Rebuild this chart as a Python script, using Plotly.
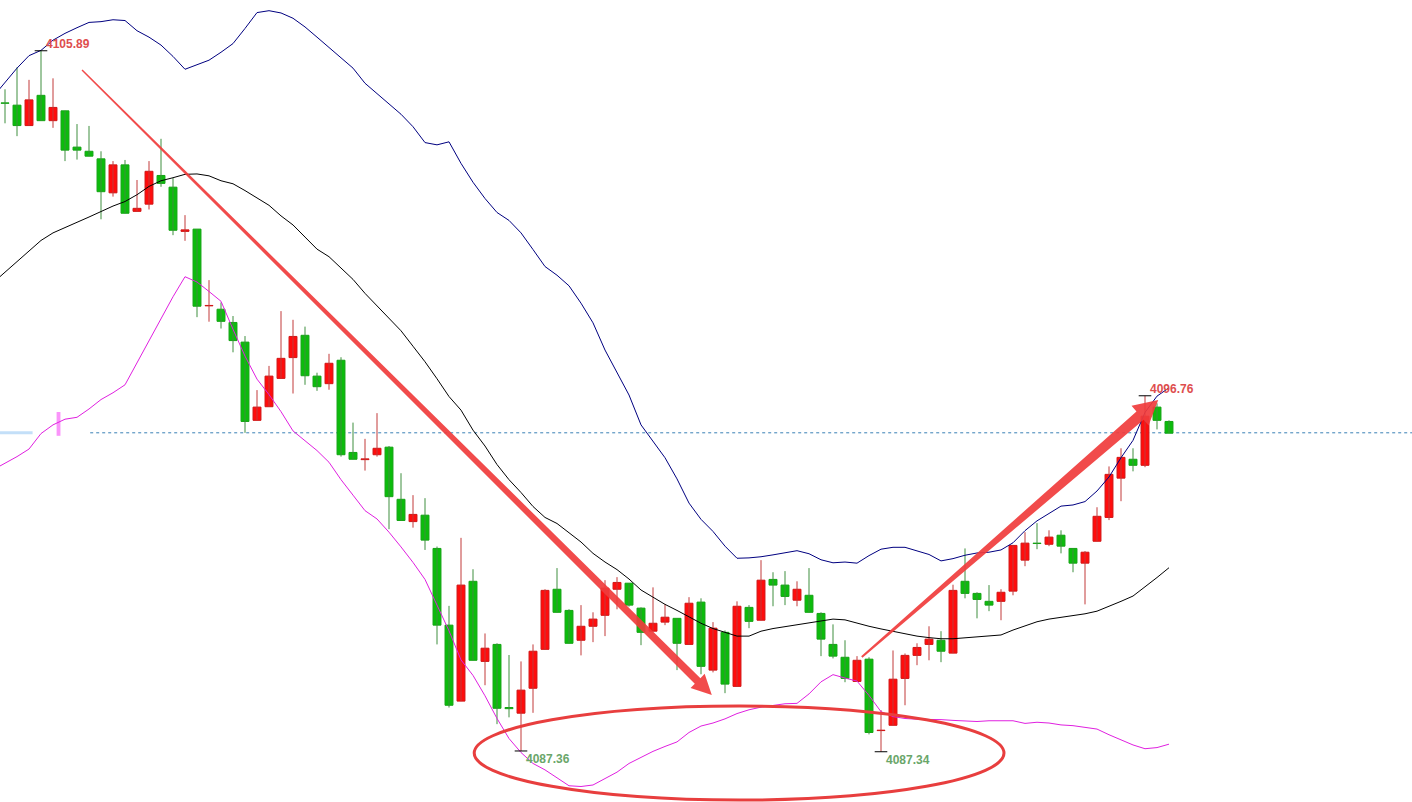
import plotly.graph_objects as go

# ---------------- data ----------------
opens = [4104.51, 4104.45, 4103.91, 4104.71, 4104.04, 4104.30, 4103.34, 4103.23, 4103.03, 4102.13,
         4102.87, 4101.64, 4101.83, 4102.59, 4102.28, 4101.11, 4101.17, 4099.14, 4099.05, 4098.70,
         4098.18, 4096.11, 4096.47, 4097.22, 4097.77, 4098.36, 4097.28, 4097.08, 4097.70, 4095.26,
         4095.07, 4095.20, 4095.40, 4094.02, 4093.43, 4093.60, 4092.72, 4090.69, 4088.68, 4091.85,
         4089.73, 4090.18, 4088.51, 4088.36, 4089.02, 4090.05, 4091.64, 4091.08, 4090.29, 4090.66,
         4090.95, 4091.64, 4091.80, 4091.14, 4090.53, 4090.77, 4090.87, 4090.18, 4091.30, 4089.50,
         4090.50, 4089.07, 4091.16, 4090.82, 4091.90, 4091.75, 4091.35, 4091.48, 4091.00, 4090.18,
         4089.84, 4089.20, 4089.79, 4087.90, 4088.04, 4089.28, 4089.89, 4090.18, 4090.29, 4089.95,
         4091.85, 4091.53, 4091.32, 4091.32, 4091.59, 4092.41, 4092.86, 4092.83, 4093.07, 4092.72,
         4092.33, 4092.91, 4093.54, 4094.58, 4095.08, 4094.92, 4096.46, 4096.08]
highs = [4104.87, 4105.45, 4105.12, 4105.89, 4105.16, 4104.30, 4103.95, 4103.90, 4103.23, 4102.97,
         4103.00, 4102.47, 4102.97, 4103.56, 4102.52, 4101.54, 4101.17, 4099.82, 4099.23, 4098.87,
         4098.34, 4096.91, 4097.55, 4099.00, 4098.77, 4098.59, 4097.37, 4097.87, 4097.78, 4096.05,
         4095.62, 4096.30, 4095.43, 4094.71, 4094.13, 4094.05, 4092.77, 4091.20, 4093.00, 4092.17,
         4090.47, 4090.21, 4089.90, 4089.73, 4090.18, 4091.64, 4092.20, 4091.11, 4091.22, 4091.03,
         4091.88, 4091.96, 4091.80, 4091.16, 4091.69, 4091.24, 4090.87, 4091.43, 4091.40, 4090.77,
         4090.55, 4091.32, 4091.22, 4092.41, 4092.09, 4092.12, 4091.85, 4092.20, 4091.03, 4090.71,
         4090.29, 4089.87, 4089.84, 4088.44, 4090.02, 4089.94, 4090.21, 4090.66, 4090.53, 4091.76,
         4092.72, 4091.56, 4091.75, 4091.64, 4092.80, 4093.15, 4093.39, 4093.20, 4093.20, 4092.72,
         4092.65, 4093.81, 4094.89, 4095.37, 4095.37, 4096.76, 4096.56, 4096.11]
lows = [4103.97, 4103.63, 4103.91, 4104.04, 4103.85, 4102.97, 4103.01, 4103.10, 4101.43, 4102.03,
        4101.59, 4101.64, 4101.69, 4102.29, 4101.01, 4100.86, 4098.84, 4098.72, 4098.54, 4097.91,
        4095.78, 4096.11, 4096.47, 4097.22, 4096.82, 4097.05, 4096.89, 4096.92, 4095.15, 4095.08,
        4094.78, 4095.15, 4093.23, 4093.46, 4093.27, 4092.68, 4090.18, 4088.51, 4088.68, 4089.76,
        4089.10, 4088.07, 4088.25, 4087.36, 4088.37, 4090.05, 4091.03, 4090.21, 4089.89, 4090.24,
        4090.40, 4091.11, 4091.18, 4090.16, 4090.53, 4090.69, 4089.50, 4090.18, 4089.39, 4089.44,
        4088.89, 4089.07, 4090.61, 4090.82, 4091.19, 4091.22, 4091.19, 4091.03, 4089.87, 4089.81,
        4089.18, 4089.20, 4087.80, 4087.34, 4088.04, 4088.57, 4089.63, 4089.76, 4089.71, 4089.95,
        4091.40, 4090.87, 4091.06, 4090.82, 4091.48, 4092.25, 4092.70, 4092.78, 4092.59, 4092.09,
        4091.24, 4092.91, 4093.47, 4093.97, 4094.76, 4094.87, 4095.87, 4095.77]
closes = [4104.50, 4103.91, 4104.59, 4104.04, 4104.39, 4103.26, 4103.26, 4103.10, 4102.16, 4102.87,
          4101.59, 4101.72, 4102.70, 4102.38, 4101.14, 4101.15, 4099.13, 4099.15, 4098.73, 4098.22,
          4096.08, 4096.46, 4097.28, 4097.75, 4098.33, 4097.29, 4097.00, 4097.62, 4095.20, 4095.08,
          4095.09, 4095.37, 4094.09, 4093.46, 4093.62, 4092.94, 4090.69, 4088.57, 4091.75, 4089.76,
          4090.08, 4088.49, 4088.48, 4088.97, 4090.00, 4091.61, 4091.03, 4090.21, 4090.66, 4090.85,
          4091.67, 4091.82, 4091.22, 4090.50, 4090.74, 4090.90, 4090.21, 4091.27, 4089.60, 4090.61,
          4089.13, 4091.19, 4090.79, 4091.88, 4091.75, 4091.45, 4091.64, 4091.03, 4090.32, 4089.87,
          4089.28, 4089.76, 4087.85, 4087.91, 4089.26, 4089.89, 4090.10, 4090.32, 4090.00, 4091.61,
          4091.53, 4091.37, 4091.22, 4091.56, 4092.80, 4092.86, 4092.85, 4093.02, 4092.78, 4092.33,
          4092.62, 4093.57, 4094.68, 4095.13, 4094.92, 4096.22, 4096.11, 4095.77]

# Bollinger bands, one value per bar starting one bar before the first visible candle
band_start = -1
upper_band = [4104.67, 4105.06, 4105.43, 4105.76, 4105.90, 4106.17, 4106.35, 4106.50, 4106.64, 4106.66,
              4106.71, 4106.69, 4106.42, 4106.25, 4106.04, 4105.74, 4105.40, 4105.52, 4105.64, 4105.85,
              4106.08, 4106.48, 4106.90, 4106.95, 4106.89, 4106.75, 4106.52, 4106.25, 4105.97, 4105.71,
              4105.43, 4105.03, 4104.75, 4104.47, 4104.21, 4103.88, 4103.46, 4103.40, 4103.48, 4102.91,
              4102.41, 4101.98, 4101.61, 4101.40, 4101.07, 4100.63, 4100.18, 4099.95, 4099.67, 4099.21,
              4098.69, 4097.97, 4097.37, 4096.78, 4095.99, 4095.54, 4095.12, 4094.56, 4093.92, 4093.49,
              4093.17, 4092.78, 4092.46, 4092.47, 4092.50, 4092.55, 4092.61, 4092.66, 4092.58, 4092.42,
              4092.34, 4092.36, 4092.33, 4092.53, 4092.70, 4092.75, 4092.75, 4092.66, 4092.56, 4092.39,
              4092.45, 4092.54, 4092.60, 4092.62, 4092.68, 4092.87, 4093.19, 4093.45, 4093.65, 4093.84,
              4093.87, 4093.96, 4094.24, 4094.61, 4095.12, 4095.58, 4096.32, 4096.75, 4096.97]
middle_band = [4099.75, 4100.03, 4100.31, 4100.59, 4100.87, 4101.07, 4101.22, 4101.35, 4101.49, 4101.64,
               4101.78, 4101.90, 4102.08, 4102.30, 4102.45, 4102.53, 4102.62, 4102.63, 4102.58, 4102.45,
               4102.37, 4102.19, 4102.00, 4101.80, 4101.52, 4101.28, 4100.96, 4100.64, 4100.44, 4100.14,
               4099.84, 4099.47, 4099.14, 4098.83, 4098.48, 4098.07, 4097.66, 4097.21, 4096.74, 4096.38,
               4095.85, 4095.43, 4094.94, 4094.54, 4094.20, 4093.83, 4093.54, 4093.38, 4093.14, 4092.89,
               4092.59, 4092.36, 4092.16, 4091.91, 4091.62, 4091.43, 4091.24, 4091.08, 4090.91, 4090.74,
               4090.60, 4090.49, 4090.40, 4090.40, 4090.53, 4090.60, 4090.65, 4090.70, 4090.76, 4090.81,
               4090.85, 4090.83, 4090.74, 4090.66, 4090.59, 4090.52, 4090.46, 4090.40, 4090.36, 4090.33,
               4090.33, 4090.36, 4090.38, 4090.40, 4090.43, 4090.56, 4090.68, 4090.78, 4090.85, 4090.90,
               4090.95, 4090.99, 4091.06, 4091.18, 4091.32, 4091.46, 4091.70, 4091.95, 4092.21]
lower_band = [4094.80, 4094.97, 4095.15, 4095.35, 4095.76, 4095.99, 4096.14, 4096.19, 4096.41, 4096.66,
              4096.84, 4097.05, 4097.63, 4098.23, 4098.82, 4099.38, 4099.91, 4099.77, 4099.52, 4099.26,
              4098.52, 4097.81, 4097.20, 4096.79, 4096.34, 4095.83, 4095.57, 4095.31, 4095.00, 4094.54,
              4094.13, 4093.72, 4093.50, 4093.15, 4092.76, 4092.35, 4091.90, 4091.20, 4090.54, 4089.77,
              4089.36, 4088.82, 4088.22, 4087.69, 4087.32, 4087.03, 4086.86, 4086.65, 4086.44, 4086.42,
              4086.46, 4086.63, 4086.80, 4087.03, 4087.19, 4087.35, 4087.48, 4087.60, 4087.85, 4088.02,
              4088.10, 4088.21, 4088.35, 4088.45, 4088.52, 4088.57, 4088.61, 4088.62, 4088.87, 4089.19,
              4089.38, 4089.29, 4089.21, 4088.83, 4088.40, 4088.27, 4088.22, 4088.20, 4088.20, 4088.19,
              4088.17, 4088.15, 4088.14, 4088.16, 4088.17, 4088.16, 4088.09, 4088.12, 4088.10, 4088.05,
              4088.03, 4087.99, 4087.94, 4087.79, 4087.65, 4087.52, 4087.42, 4087.45, 4087.54]

current_price = 4095.78          # dashed horizontal line
marked_bars = [3, 43, 73, 95]    # bars whose extreme is labelled
marked_kind = ["high", "low", "low", "high"]

# arrow endpoints (bar index, price) and the circled zone
arrow_down = ((6.42, 4105.38), (58.9, 4088.84))
arrow_up = ((71.4, 4089.85), (96.1, 4096.65))
zone_x = (39.1, 83.25)
zone_y = (4086.06, 4088.55)

# ---------------- styling / layout ----------------
W, H = 1412, 802
XR = [-5 / 12, 1407 / 12]
YR = [4086.01, 4107.233]

RED, GREEN = "#ff0d0d", "#0cbc0c"
RED_WICK, GREEN_WICK = "#c23a3a", "#3f8f3f"
DRAW_RED = "rgba(240,60,60,0.92)"

n = len(opens)
xs = list(range(n))
up = [c >= o for o, c in zip(opens, closes)]

fig = go.Figure()

# wicks
for flag, col in ((True, RED_WICK), (False, GREEN_WICK)):
    wx, wy = [], []
    for i in xs:
        if up[i] == flag:
            wx += [i, i, None]
            wy += [lows[i], highs[i], None]
    fig.add_trace(go.Scatter(x=wx, y=wy, mode="lines", line=dict(color=col, width=1),
                             hoverinfo="skip", showlegend=False))

# bodies
for flag, fill, edge in ((True, RED, "#d01515"), (False, GREEN, "#13a313")):
    bx = [i for i in xs if up[i] == flag]
    base = [min(opens[i], closes[i]) for i in bx]
    hgt = [abs(closes[i] - opens[i]) for i in bx]
    fig.add_trace(go.Bar(x=bx, y=hgt, base=base, width=0.66,
                         marker=dict(color=fill, line=dict(color=edge, width=1)),
                         hoverinfo="skip", showlegend=False))

# Bollinger bands
bx_band = list(range(band_start, band_start + len(upper_band)))
fig.add_trace(go.Scatter(x=bx_band, y=upper_band, mode="lines",
                         line=dict(color="#000080", width=1), showlegend=False, hoverinfo="skip"))
fig.add_trace(go.Scatter(x=bx_band, y=middle_band, mode="lines",
                         line=dict(color="#000000", width=1), showlegend=False, hoverinfo="skip"))
fig.add_trace(go.Scatter(x=bx_band, y=lower_band, mode="lines",
                         line=dict(color="#e020e0", width=1), showlegend=False, hoverinfo="skip"))

# extreme markers + labels
mx = marked_bars
my = [highs[i] if k == "high" else lows[i] for i, k in zip(marked_bars, marked_kind)]
fig.add_trace(go.Scatter(x=mx, y=my, mode="markers",
                         marker=dict(symbol="line-ew", size=9, line=dict(color="#000000", width=1)),
                         showlegend=False, hoverinfo="skip"))
for i, k, v in zip(marked_bars, marked_kind, my):
    fig.add_annotation(x=i, y=v, text=f"<b>{v:.2f}</b>", showarrow=False, xanchor="left",
                       yanchor="middle", xshift=3, yshift=7 if k == "high" else -8,
                       font=dict(family="Liberation Sans, Arial", size=12,
                                 color="#de4e4e" if k == "high" else "#6aa66a"))


# ---------------- drawings ----------------
def to_px(x, y):
    return ((x - XR[0]) / (XR[1] - XR[0]) * W, H - (y - YR[0]) / (YR[1] - YR[0]) * H)


def to_data(px, py):
    return (XR[0] + px / W * (XR[1] - XR[0]), YR[0] + (H - py) / H * (YR[1] - YR[0]))


def tapered_arrow(start, end, w0, w1, head_len, head_half):
    sx, sy = to_px(*start)
    tx, ty = to_px(*end)
    dx, dy = tx - sx, ty - sy
    L = (dx * dx + dy * dy) ** 0.5
    ux, uy = dx / L, dy / L
    nx, ny = -uy, ux
    bx, by = tx - ux * head_len, ty - uy * head_len
    pts = [(sx + nx * w0 / 2, sy + ny * w0 / 2), (bx + nx * w1 / 2, by + ny * w1 / 2),
           (bx + nx * head_half, by + ny * head_half), (tx, ty),
           (bx - nx * head_half, by - ny * head_half), (bx - nx * w1 / 2, by - ny * w1 / 2),
           (sx - nx * w0 / 2, sy - ny * w0 / 2)]
    d = [to_data(px, py) for px, py in pts]
    return "M " + " L ".join(f"{a},{b}" for a, b in d) + " Z"


fig.add_shape(type="path", path=tapered_arrow(*arrow_down, 1.5, 8, 20, 10), xref="x", yref="y",
              fillcolor=DRAW_RED, line=dict(width=0), layer="above")
fig.add_shape(type="path", path=tapered_arrow(*arrow_up, 2, 11, 24, 13), xref="x", yref="y",
              fillcolor=DRAW_RED, line=dict(width=0), layer="above")
fig.add_shape(type="circle", x0=zone_x[0], x1=zone_x[1], y0=zone_y[0], y1=zone_y[1],
              xref="x", yref="y", line=dict(color="rgba(232,62,62,1)", width=3), layer="above")

# current price dashed line
fig.add_shape(type="line", x0=7.1, x1=XR[1], y0=current_price, y1=current_price,
              xref="x", yref="y", line=dict(color="#3a80b5", width=1, dash="3px,3px"), layer="below")
fig.add_shape(type="line", x0=XR[0], x1=2.3, y0=current_price, y1=current_price,
              xref="x", yref="y", line=dict(color="rgba(170,210,245,0.7)", width=3), layer="below")
fig.add_shape(type="rect", x0=4.3, x1=4.62, y0=current_price - 0.08, y1=current_price + 0.55,
              xref="x", yref="y", fillcolor="rgba(245,60,245,0.55)", line=dict(width=0), layer="below")

fig.update_layout(
    width=W, height=H, margin=dict(l=0, r=0, t=0, b=0),
    paper_bgcolor="#ffffff", plot_bgcolor="#ffffff",
    barmode="overlay", showlegend=False, hovermode=False,
    xaxis=dict(range=XR, visible=False, fixedrange=True),
    yaxis=dict(range=YR, visible=False, fixedrange=True),
)

fig.write_html("out.html", config={"displayModeBar": False},
               post_script="document.body.style.margin='0';document.body.style.overflow='hidden';")
